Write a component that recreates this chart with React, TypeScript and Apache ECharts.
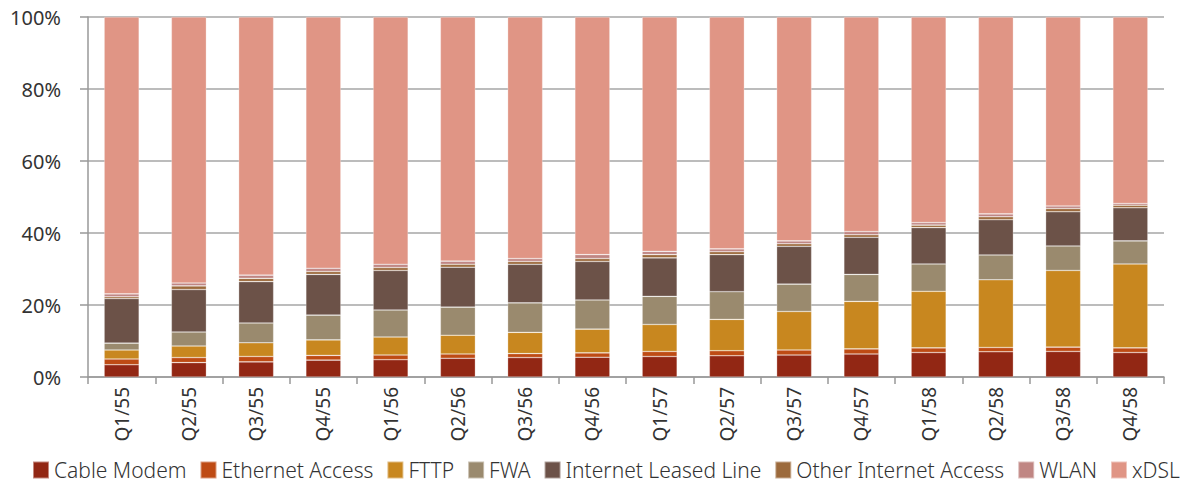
import React, { useEffect, useRef } from "react";
import * as echarts from "echarts";

const categories = ["Q1/55","Q2/55","Q3/55","Q4/55","Q1/56","Q2/56","Q3/56","Q4/56","Q1/57","Q2/57","Q3/57","Q4/57","Q1/58","Q2/58","Q3/58","Q4/58"];

const cableModem = [3.4,4.0,4.2,4.7,4.8,5.2,5.4,5.5,5.7,5.9,6.1,6.4,6.8,7.0,7.1,6.8];
const ethernetAccess = [1.6,1.4,1.5,1.3,1.3,1.2,1.1,1.2,1.4,1.4,1.4,1.4,1.3,1.2,1.2,1.3];
const fttp = [2.5,3.2,3.8,4.3,5.0,5.2,5.9,6.6,7.5,8.7,10.7,13.2,15.7,18.8,21.3,23.3];
const fwa = [1.9,3.9,5.5,6.9,7.5,7.8,8.2,8.1,7.8,7.7,7.6,7.5,7.6,6.9,6.8,6.4];
const internetLeasedLine = [12.4,11.8,11.5,11.3,11.0,11.1,10.7,10.7,10.7,10.3,10.5,10.3,10.1,9.8,9.5,9.2];
const otherInternetAccess = [0.5,1.0,0.9,0.8,0.8,0.8,0.8,0.8,0.9,0.8,0.7,0.7,0.7,0.8,0.9,0.7];
const wlan = [0.8,0.8,0.9,0.9,0.9,0.9,0.8,1.1,0.9,0.8,0.8,0.9,0.7,0.8,0.7,0.5];
const xdsl = [76.9,73.9,71.7,69.8,68.7,67.8,67.1,66.0,65.1,64.4,62.2,59.6,57.1,54.7,52.5,51.8];

const yTicks = [0, 20, 40, 60, 80, 100];

const seriesDefs = [
  { name: "Cable Modem", data: cableModem, color: "#922714" },
  { name: "Ethernet Access", data: ethernetAccess, color: "#BE4B14" },
  { name: "FTTP", data: fttp, color: "#C8871F" },
  { name: "FWA", data: fwa, color: "#9A8A6E" },
  { name: "Internet Leased Line", data: internetLeasedLine, color: "#6C5248" },
  { name: "Other Internet Access", data: otherInternetAccess, color: "#9C6A3C" },
  { name: "WLAN", data: wlan, color: "#C08683" },
  { name: "xDSL", data: xdsl, color: "#E09585" },
];

const FONT = "'Noto Sans', sans-serif";

export default function App() {
  const ref = useRef<HTMLDivElement>(null);
  useEffect(() => {
    if (!ref.current) return;
    const chart = echarts.init(ref.current, null, { renderer: "svg" });
    chart.setOption({
      animation: false,
      backgroundColor: "#ffffff",
      grid: { left: 88, right: 36, top: 17, bottom: 109, containLabel: false },
      legend: {
        top: 459,
        left: 32,
        padding: 0,
        itemWidth: 16,
        itemHeight: 17,
        itemGap: 13,
        icon: "rect",
        textStyle: { fontFamily: FONT, fontSize: 21, lineHeight: 22, color: "#333", fontWeight: 300 },
        data: seriesDefs.map((s) => s.name),
      },
      xAxis: {
        type: "category",
        data: categories,
        axisLine: { show: true, lineStyle: { color: "#999", width: 1.5 } },
        axisTick: { show: true, length: 7, lineStyle: { color: "#999", width: 1.5 } },
        axisLabel: { rotate: 90, fontFamily: FONT, fontSize: 19, color: "#333", margin: 10 },
      },
      yAxis: {
        type: "value",
        min: 0,
        max: 100,
        interval: 20,
        axisLine: { show: true, lineStyle: { color: "#999", width: 1.5 } },
        axisTick: { show: true, length: 8, lineStyle: { color: "#999", width: 1.5 } },
        splitLine: { show: true, lineStyle: { color: "#a6a6a6", width: 1.5 } },
        axisLabel: {
          fontFamily: FONT,
          fontSize: 20,
          color: "#333",
          margin: 27,
          formatter: (v: number) => (yTicks.includes(v) ? v + "%" : ""),
        },
      },
      series: seriesDefs.map((s) => ({
        name: s.name,
        type: "bar",
        stack: "total",
        barWidth: 35,
        data: s.data,
        itemStyle: { color: s.color, borderColor: "rgba(255,255,255,0.45)", borderWidth: 0.6 },
      })),
    });
    return () => chart.dispose();
  }, []);
  return <div ref={ref} style={{ width: 1200, height: 486, position: "absolute", left: 0, top: 0 }} />;
}
